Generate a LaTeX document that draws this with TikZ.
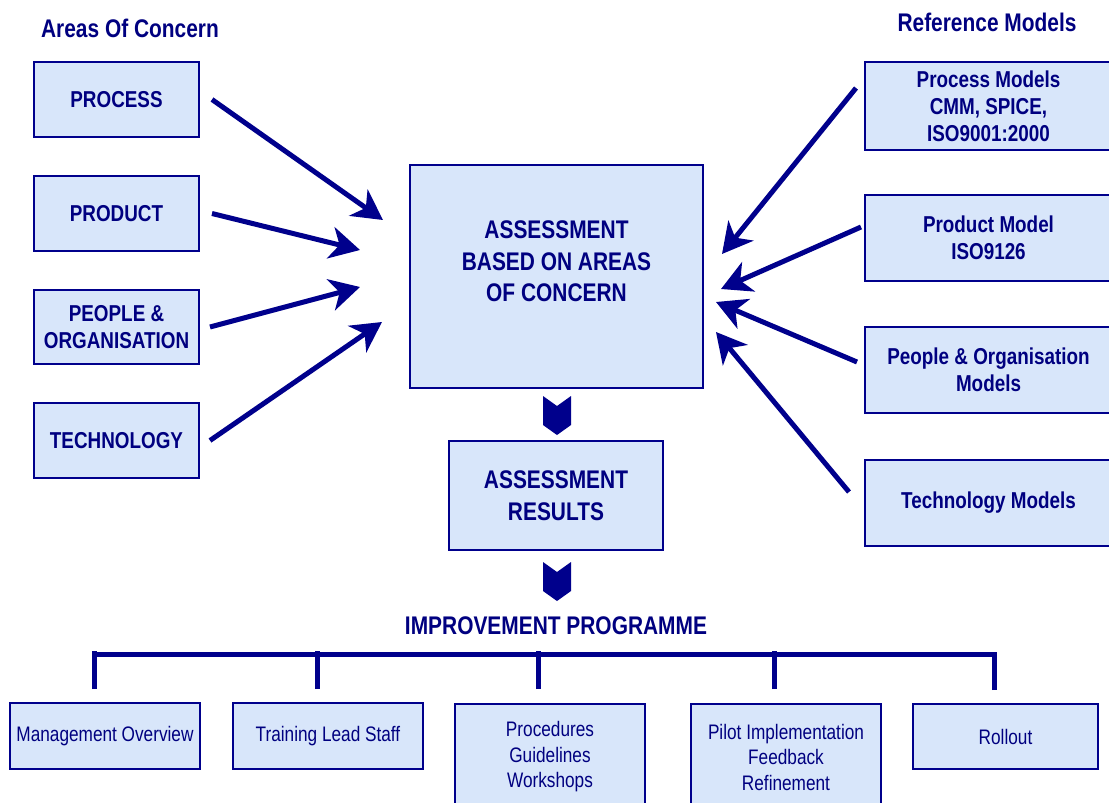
\documentclass[tikz,border=0pt]{standalone}
\usepackage{fontspec}
\setmainfont{Liberation Sans}[FakeStretch=0.82]
\usetikzlibrary{arrows.meta}

\definecolor{navy}{RGB}{0,0,140}
\definecolor{deep}{RGB}{0,0,128}
\definecolor{pale}{RGB}{216,230,250}

\tikzset{
  box/.style={draw=navy, line width=2pt, fill=pale, text=deep, align=center, inner sep=0pt},
  bigtxt/.style={font=\fontsize{23}{27}\selectfont\bfseries},
  hugetxt/.style={font=\fontsize{25.5}{31.5}\selectfont\bfseries},
  smalltxt/.style={font=\fontsize{21}{25.5}\selectfont},
  feed/.style={draw=navy, line width=5pt, -{Stealth[length=30pt,width=32pt,inset=9pt]}},
  barline/.style={draw=navy, line width=5pt},
}

\begin{document}
\begin{tikzpicture}[x=1pt, y=-1pt]

\fill[white] (0,0) rectangle (1109,803);
\useasboundingbox (0,0) rectangle (1109,803);

\node[hugetxt, text=deep] (aoc) at (130,28) {Areas Of Concern};
\node[hugetxt, text=deep] (rfm) at (987,22) {Reference Models};

% -------- areas of concern -----------
\node[box, bigtxt, minimum width=165pt, minimum height=75pt] (proc) at (116.5,99.5) {PROCESS};
\node[box, bigtxt, minimum width=165pt, minimum height=75pt] (prod) at (116.5,213.5) {PRODUCT};
\node[box, bigtxt, minimum width=165pt, minimum height=74pt] (peop) at (116.5,327) {PEOPLE \&\\ORGANISATION};
\node[box, bigtxt, minimum width=165pt, minimum height=75pt] (tech) at (116.5,440.5) {TECHNOLOGY};

% -------- reference models -----------
\node[box, bigtxt, minimum width=247pt, minimum height=88pt] (pmod) at (988.5,106) {Process Models\\CMM, SPICE,\\ISO9001:2000};
\node[box, bigtxt, minimum width=247pt, minimum height=86pt] (dmod) at (988.5,238) {Product Model\\ISO9126};
\node[box, bigtxt, minimum width=247pt, minimum height=86pt] (omod) at (988.5,370) {People \& Organisation\\Models};
\node[box, bigtxt, minimum width=247pt, minimum height=86pt] (tmod) at (988.5,503) {Technology Models};

% -------- assessment -----------
\node[box, minimum width=293pt, minimum height=223pt] (ctr) at (556.5,276.5) {};
\node[hugetxt, text=deep, align=center] (ctrtxt) at ([yshift=15pt]ctr.center) {ASSESSMENT\\BASED ON AREAS\\OF CONCERN};
\node[box, hugetxt, minimum width=214pt, minimum height=109pt] (res) at (556,495.5) {ASSESSMENT\\RESULTS};

\coordinate (ta) at (383,220);
\coordinate (tb) at (360,250);
\coordinate (tc) at (360,287);
\coordinate (td) at (382,322);
\coordinate (te) at (722,254);
\coordinate (tf) at (721,289);
\coordinate (tg) at (716,302);
\coordinate (th) at (716,332);

\draw[feed] ([xshift=12pt]proc.east) -- (ta);
\draw[feed] ([xshift=12pt]prod.east) -- (tb);
\draw[feed] ([xshift=10pt]peop.east) -- (tc);
\draw[feed] ([xshift=10pt]tech.east) -- (td);
\draw[feed] ([shift={(-8,-18)}]pmod.west) -- (te);
\draw[feed] ([shift={(-3,-11)}]dmod.west) -- (tf);
\draw[feed] ([shift={(-7,-8)}]omod.west) -- (tg);
\draw[feed] ([shift={(-15,-11)}]tmod.west) -- (th);

\fill[navy] (543,396) -- (557,406) -- (571,396) -- (571,425) -- (557,435) -- (543,425) -- cycle;
\fill[navy] (543,562) -- (557,572) -- (571,562) -- (571,591) -- (557,601) -- (543,591) -- cycle;

% -------- improvement programme -----------
\node[hugetxt, text=deep] (imp) at (556,626) {IMPROVEMENT PROGRAMME};

\node[box, smalltxt, minimum width=190pt, minimum height=66pt] (mgmt) at (105,736) {Management Overview};
\node[box, smalltxt, minimum width=190pt, minimum height=66pt] (trng) at (328,736) {Training Lead Staff};
\node[box, smalltxt, minimum width=190pt, minimum height=106pt] (proced) at (550,757) {Procedures\\Guidelines\\Workshops};
\node[box, smalltxt, minimum width=190pt, minimum height=106pt] (pilot) at (786,757) {Pilot Implementation\\Feedback\\Refinement};
\node[box, smalltxt, minimum width=185pt, minimum height=65pt] (roll) at (1005.5,736.5) {Rollout};

\draw[barline] (94,654) -- (997,654);
\foreach \b in {mgmt,trng,roll}
  \draw[barline] ([shift={(-11,-13)}]\b.north) -- ++(0,-38.5);
\foreach \b in {proced,pilot}
  \draw[barline] ([shift={(-12,-14)}]\b.north) -- ++(0,-38.5);

\end{tikzpicture}
\end{document}
